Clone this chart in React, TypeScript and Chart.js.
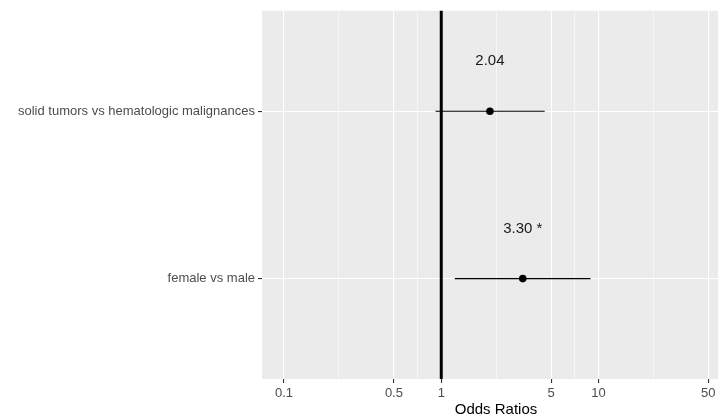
import { useEffect, useRef } from 'react';
import { Chart, registerables } from 'chart.js';

Chart.register(...registerables);

const categories = ['solid tumors vs hematologic malignances', 'female vs male'];
const oddsRatios = [2.04, 3.3];
const ciLower = [0.92, 1.22];
const ciUpper = [4.55, 8.9];
const annotations = ['2.04', '3.30 *'];
const xMajorTicks = [0.1, 0.5, 1, 5, 10, 50];
const xMinorTicks = [0.2236, 0.7071, 2.236, 7.071, 22.36];
const referenceValue = 1;
const xTitle = 'Odds Ratios';

export default function App() {
  const ref = useRef<HTMLCanvasElement>(null);

  useEffect(() => {
    document.body.style.margin = '0';
    const canvas = ref.current;
    if (!canvas) return;
    const rows = categories.map((_, i) => i + 1);
    const yMin = 0.4;
    const yMax = categories.length + 0.6;

    const datasets: any[] = [];
    datasets.push({
      data: [
        { x: referenceValue, y: yMin },
        { x: referenceValue, y: yMax },
      ],
      showLine: true,
      borderColor: '#000',
      borderWidth: 3,
      pointRadius: 0,
      order: 3,
      clip: 5,
    });
    categories.forEach((_, i) => {
      datasets.push({
        data: [
          { x: ciLower[i], y: rows[i] },
          { x: ciUpper[i], y: rows[i] },
        ],
        showLine: true,
        borderColor: '#000',
        borderWidth: 1.1,
        pointRadius: 0,
        order: 2,
      });
    });
    datasets.push({
      data: oddsRatios.map((v, i) => ({ x: v, y: rows[i] })),
      showLine: false,
      pointRadius: 3.8,
      pointBackgroundColor: '#000',
      pointBorderWidth: 0,
      order: 1,
    });

    const bgPlugin = {
      id: 'panelBg',
      beforeDraw(chart: any) {
        const { ctx, chartArea: a } = chart;
        ctx.save();
        ctx.fillStyle = '#EBEBEB';
        ctx.fillRect(a.left, a.top, a.right - a.left, a.bottom - a.top);
        ctx.restore();
      },
    };

    const labelPlugin = {
      id: 'labels',
      afterDatasetsDraw(chart: any) {
        const { ctx, scales } = chart;
        ctx.save();
        ctx.fillStyle = '#1a1a1a';
        ctx.font = '15px "Liberation Sans", Arial, sans-serif';
        ctx.textAlign = 'center';
        ctx.textBaseline = 'middle';
        annotations.forEach((t, i) => {
          const x = scales.x.getPixelForValue(oddsRatios[i]);
          const y = scales.y.getPixelForValue(rows[i] - 0.3);
          ctx.fillText(t, x, y);
        });
        ctx.restore();
      },
      afterDraw(chart: any) {
        const { ctx, chartArea: a } = chart;
        ctx.save();
        ctx.fillStyle = '#000';
        ctx.font = '15px "Liberation Sans", Arial, sans-serif';
        ctx.textAlign = 'center';
        ctx.textBaseline = 'middle';
        ctx.fillText(xTitle, (a.left + a.right) / 2 + 6, 410);
        ctx.restore();
      },
    };

    const isMajor = (v: number) => xMajorTicks.some((m) => Math.abs(m - v) < 1e-9);

    const chart = new Chart(canvas, {
      type: 'scatter',
      data: { datasets },
      plugins: [bgPlugin, labelPlugin],
      options: {
        animation: false,
        responsive: false,
        maintainAspectRatio: false,
        layout: { padding: { top: 8, right: 0, bottom: 0, left: 0 } },
        plugins: { legend: { display: false }, tooltip: { enabled: false } },
        scales: {
          x: {
            type: 'logarithmic',
            bounds: 'data',
            min: 0.0724,
            max: 57.6,
            afterBuildTicks: (scale: any) => {
              scale.min = 0.0724;
              scale.max = 57.6;
              scale.ticks = [...xMajorTicks, ...xMinorTicks]
                .sort((a, b) => a - b)
                .map((v) => ({ value: v }));
            },
            afterFit: (scale: any) => {
              scale.height = 40;
            },
            border: { display: false },
            grid: {
              color: '#FFFFFF',
              lineWidth: (c: any) => (isMajor(c.tick?.value) ? 1.1 : 0.55),
              tickColor: (c: any) => (isMajor(c.tick?.value) ? '#333333' : 'rgba(0,0,0,0)'),
              tickLength: 4,
            },
            ticks: {
              autoSkip: false,
              maxRotation: 0,
              minRotation: 0,
              padding: 3,
              color: '#4D4D4D',
              font: { family: '"Liberation Sans", Arial, sans-serif', size: 13 },
              callback: (v: any) => (isMajor(Number(v)) ? String(v) : ''),
            },
          },
          y: {
            type: 'linear',
            min: yMin,
            max: yMax,
            reverse: true,
            afterBuildTicks: (scale: any) => {
              scale.ticks = rows.map((v) => ({ value: v }));
            },
            afterFit: (scale: any) => {
              scale.width = 262;
            },
            border: { display: false },
            grid: {
              color: '#FFFFFF',
              lineWidth: 1.1,
              tickColor: '#333333',
              tickLength: 4,
            },
            ticks: {
              autoSkip: false,
              padding: 3,
              color: '#4D4D4D',
              font: { family: '"Liberation Sans", Arial, sans-serif', size: 13 },
              callback: (v: any) => categories[Number(v) - 1] ?? '',
            },
          },
        },
      },
    } as any);

    return () => chart.destroy();
  }, []);

  return (
    <div style={{ width: 722, height: 419, position: 'relative' }}>
      <canvas ref={ref} width={722} height={419} style={{ display: 'block' }} />
    </div>
  );
}
